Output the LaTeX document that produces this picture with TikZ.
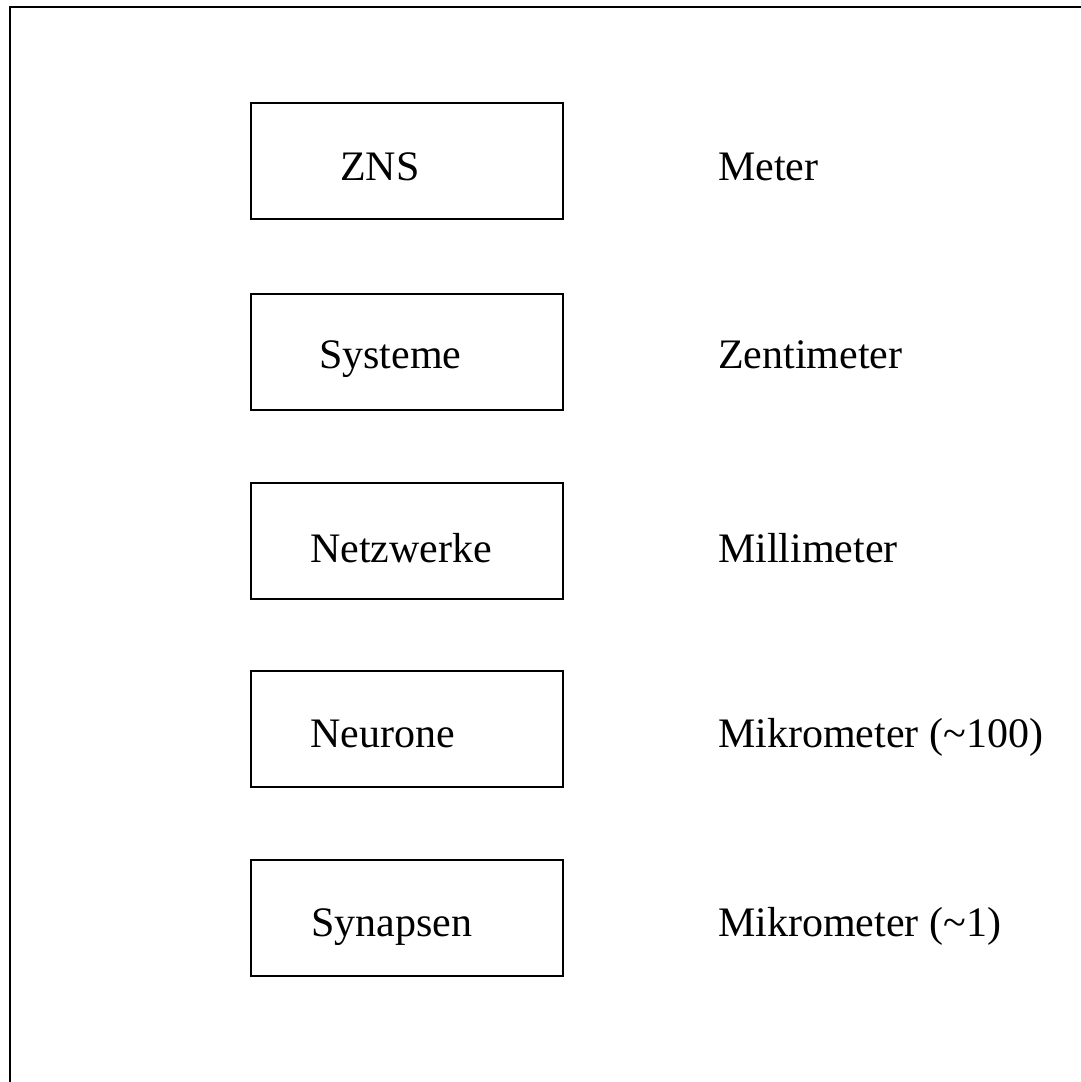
\documentclass[tikz,border=0pt]{standalone}
\usepackage{fontspec}
\setmainfont{Liberation Serif}
\begin{document}
\begin{tikzpicture}[x=1pt,y=-1pt,
  lvlbox/.style={draw=black,line width=2pt,minimum width=312pt,minimum height=116pt,inner sep=0pt,anchor=north west},
  lbl/.style={anchor=base west,inner sep=0pt,font=\fontsize{42}{50}\selectfont}]
\useasboundingbox (0,0) rectangle (1081,1082);
\coordinate (ftop) at (1081,7);
\coordinate (fcorner) at (10,7);
\coordinate (fbot) at (10,1082);
\draw[line width=2.2pt] (ftop) -- (fcorner) -- (fbot);
\node[lvlbox] (b1) at (250,102) {};
\node[lvlbox] (b2) at (250,293) {};
\node[lvlbox] (b3) at (250,482) {};
\node[lvlbox] (b4) at (250,670) {};
\node[lvlbox] (b5) at (250,859) {};
\node[lbl] (t1) at (340,180) {ZNS};
\node[lbl] (t2) at (319,368) {Systeme};
\node[lbl] (t3) at (310,562) {Netzwerke};
\node[lbl] (t4) at (310,747) {Neurone};
\node[lbl] (t5) at (311,936) {Synapsen};
\node[lbl] (r1) at (718,180) {Meter};
\node[lbl] (r2) at (718,368) {Zentimeter};
\node[lbl] (r3) at (718,562) {Millimeter};
\node[lbl] (r4) at (718,747) {Mikrometer (\textasciitilde100)};
\node[lbl] (r5) at (718,936) {Mikrometer (\textasciitilde1)};
\end{tikzpicture}
\end{document}
